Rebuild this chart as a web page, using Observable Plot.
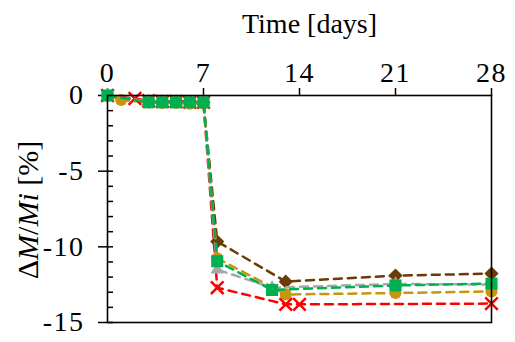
<!DOCTYPE html>
<html><head><meta charset="utf-8">
<script src="https://cdn.jsdelivr.net/npm/d3@7"></script>
<script src="https://cdn.jsdelivr.net/npm/@observablehq/plot@0.6"></script>
<style>body{margin:0;background:#fff} svg text{font-family:"Liberation Serif","Times New Roman",serif !important; font-variant:normal !important;} .tk text{letter-spacing:1.5px}</style>
</head><body><div id="chart"></div>
<script>
const xTicks = [0, 7, 14, 21, 28];
const yTicks = [0, -5, -10, -15];

const brownDays = [0, 3, 4, 5, 6, 7, 8, 13, 21, 28];
const brownVals = [0, -0.4, -0.4, -0.4, -0.4, -0.45, -9.65, -12.3, -11.9, -11.77];

const orangeDays = [0, 1, 3, 4, 5, 6, 7, 8, 13, 21, 28];
const orangeVals = [0, -0.3, -0.45, -0.5, -0.5, -0.55, -0.55, -10.75, -13.15, -13.05, -12.95];

const redDays = [0, 2, 3, 4, 5, 6, 7, 8, 13, 14, 28];
const redVals = [0, -0.2, -0.35, -0.4, -0.4, -0.45, -0.45, -12.7, -13.8, -13.8, -13.75];

const grayDays = [0, 3, 4, 5, 6, 7, 8, 12, 21, 28];
const grayVals = [0, -0.4, -0.4, -0.45, -0.45, -0.45, -11.5, -12.7, -12.45, -12.5];

const greenDays = [0, 3, 4, 5, 6, 7, 8, 12, 21, 28];
const greenVals = [0, -0.45, -0.45, -0.45, -0.45, -0.45, -10.95, -12.85, -12.55, -12.43];

const series = [
  {days: brownDays, vals: brownVals, color: "#6b3a05", symbol: "diamond2", r: 6.4, filled: true},
  {days: orangeDays, vals: orangeVals, color: "#c8960c", symbol: "circle", r: 6, filled: true},
  {days: redDays, vals: redVals, color: "#ff0000", symbol: "times", r: 5.8, filled: false},
  {days: grayDays, vals: grayVals, color: "#a8a8a8", symbol: "triangle", r: 5, filled: true},
  {days: greenDays, vals: greenVals, color: "#00b050", symbol: "square", r: 6.8, filled: true}
];

const marks = [];
for (const s of series) {
  const data = s.days.map((d, i) => ({day: d, val: s.vals[i]}));
  marks.push(Plot.line(data, {x: "day", y: "val", stroke: s.color, strokeWidth: 2.5, strokeDasharray: "8,6"}));
  marks.push(Plot.dot(data, s.filled
    ? {x: "day", y: "val", symbol: s.symbol, r: s.r, fill: s.color, stroke: "none"}
    : {x: "day", y: "val", symbol: s.symbol, r: s.r, fill: "none", stroke: s.color, strokeWidth: 2.5}));
}

const serif = "Liberation Serif, Times New Roman, serif";
const chart = Plot.plot({
  width: 515, height: 342,
  marginLeft: 107, marginRight: 24, marginTop: 95, marginBottom: 20,
  x: {domain: [0, 28]},
  y: {domain: [-15, 0]},
  style: {fontFamily: serif, fontSize: "26px", background: "white", color: "black", overflow: "visible"},
  marks: [
    Plot.axisX({anchor: "top", ticks: xTicks, tickSize: 8, tickPadding: 6, tickFormat: d => String(d), label: null, fontSize: 28, fontFamily: serif, strokeWidth: 1.5, className: "tk"}),
    Plot.axisY({anchor: "left", ticks: yTicks, tickSize: 9, tickPadding: 14, tickFormat: d => String(d), label: null, fontSize: 28, fontFamily: serif, strokeWidth: 1.5, className: "tk"}),
    Plot.axisY({anchor: "left", ticks: d3.range(-15, 1, 1), tickSize: -6, tickFormat: () => "", label: null, strokeWidth: 1.5}),
    Plot.text(["Time [days]"], {frameAnchor: "top", dy: -71, dx: 10, fontSize: 28, fontFamily: serif, lineAnchor: "middle"}),
    Plot.text(["ΔM/Mi [%]"], {frameAnchor: "left", dx: -79, dy: 1, rotate: -90, fontSize: 30, fontFamily: serif, textAnchor: "middle", lineAnchor: "middle", className: "ylab"}),
    ...marks,
    Plot.frame({stroke: "black", strokeWidth: 1.6})
  ]
});
document.getElementById("chart").appendChild(chart);

// style the y label with italic variables
const t = d3.select(chart).select("g.ylab text");
if (!t.empty()) {
  t.text(null);
  t.append("tspan").text("Δ");
  t.append("tspan").attr("font-style", "italic").text("M");
  t.append("tspan").text("/");
  t.append("tspan").attr("font-style", "italic").text("Mi");
  t.append("tspan").text(" [%]");
}
</script></body></html>
